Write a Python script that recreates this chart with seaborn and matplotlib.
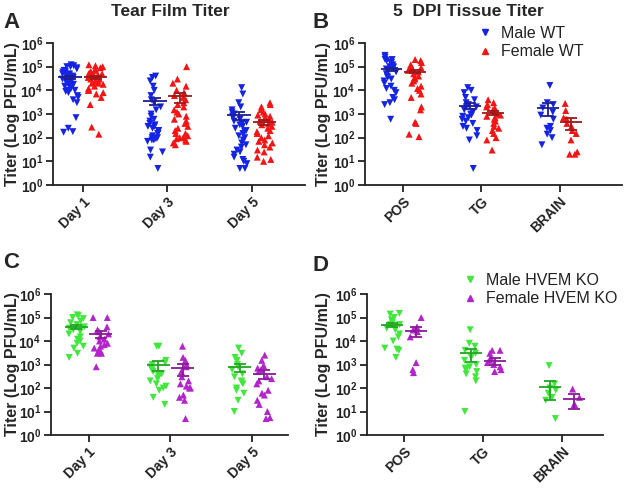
import numpy as np
import pandas as pd
import seaborn as sns
import matplotlib.pyplot as plt
from matplotlib.lines import Line2D
from matplotlib.collections import PathCollection
from matplotlib.ticker import NullLocator, FixedLocator
from matplotlib.transforms import blended_transform_factory

np.random.seed(3)

# ---- data (PFU/mL) ----
days = ["Day 1", "Day 3", "Day 5"]
tissues = ["POS", "TG", "BRAIN"]

# A: tear film, WT
tear_wt_m_d1 = [1.2e5, 1.1e5, 1.0e5, 1.0e5, 9e4, 8e4, 7e4, 6e4, 6e4, 5e4, 5e4, 4.5e4, 4e4, 4e4, 3.5e4,
                3e4, 3e4, 2.5e4, 2.5e4, 2e4, 2e4, 1.8e4, 1.5e4, 1.5e4, 1.2e4, 1e4, 1e4, 9e3, 8e3, 6e3,
                5e3, 4e3, 3e3, 700, 250, 170, 180]
tear_wt_f_d1 = [1.2e5, 1.1e5, 1.0e5, 9e4, 8e4, 7e4, 6e4, 6e4, 5e4, 5e4, 4.5e4, 4e4, 4e4, 3.5e4, 3e4,
                3e4, 2.5e4, 2.5e4, 2e4, 2e4, 1.8e4, 1.5e4, 1.2e4, 1e4, 1e4, 8e3, 7e3, 5e3, 2.5e3,
                280, 140]
tear_wt_m_d3 = [4e4, 3.5e4, 2.5e4, 1.5e4, 1e4, 6e3, 4e3, 3e3, 2e3, 1.5e3, 1e3, 800, 600, 500, 400,
                350, 300, 300, 250, 200, 200, 150, 150, 120, 100, 100, 90, 80, 80, 70, 30, 25, 15, 5]
tear_wt_f_d3 = [1e5, 3e4, 2e4, 1.5e4, 1e4, 8e3, 6e3, 5e3, 4e3, 3e3, 2.5e3, 2e3, 1.5e3, 1.2e3, 1e3,
                800, 600, 500, 400, 300, 250, 200, 150, 150, 120, 100, 100, 90, 80, 70, 60, 50]
tear_wt_m_d5 = [1.3e4, 7e3, 3e3, 2e3, 1.5e3, 1.2e3, 1e3, 900, 800, 700, 600, 500, 450, 400, 350, 300,
                250, 200, 180, 150, 120, 100, 80, 60, 50, 40, 30, 25, 20, 15, 12, 10, 8, 5, 5]
tear_wt_f_d5 = [3e3, 2.5e3, 2e3, 1.5e3, 1.2e3, 1e3, 900, 800, 700, 600, 500, 450, 400, 350, 300, 250,
                200, 180, 150, 120, 100, 80, 70, 60, 50, 40, 30, 25, 15, 12, 10]

# B: tissue, WT
tis_wt_m_pos = [3e5, 2.5e5, 2e5, 2e5, 1.8e5, 1.5e5, 1.5e5, 1.2e5, 1e5, 1e5, 9e4, 8e4, 7e4, 6e4, 5e4,
                4e4, 3.5e4, 3e4, 2.5e4, 2e4, 1.5e4, 1.2e4, 1e4, 8e3, 5e3, 4e3, 3e3, 2.5e3, 600]
tis_wt_f_pos = [2e5, 1.8e5, 1.5e5, 1.2e5, 1e5, 9e4, 8e4, 7e4, 6e4, 5e4, 4e4, 3.5e4, 3e4, 2.5e4, 2e4,
                1.5e4, 1.2e4, 1e4, 7e3, 5e3, 2e3, 1.5e3, 450, 400, 140, 110]
tis_wt_m_tg = [1.3e4, 1e4, 8e3, 5e3, 4e3, 3e3, 2.5e3, 2e3, 2e3, 1.5e3, 1.2e3, 1e3, 900, 800, 700, 600,
               500, 400, 300, 250, 200, 120, 80, 5]
tis_wt_f_tg = [4e3, 3e3, 2.5e3, 2e3, 1.8e3, 1.5e3, 1.2e3, 1e3, 900, 800, 700, 600, 500, 400, 300, 250,
               200, 150, 100, 80, 30]
tis_wt_m_br = [1.6e4, 3e3, 2.5e3, 1.8e3, 1.2e3, 900, 600, 300, 250, 200, 140, 100, 50]
tis_wt_f_br = [2.8e3, 1.4e3, 700, 600, 400, 300, 200, 150, 80, 25, 20, 20]

# C: tear film, HVEM KO
tear_ko_m_d1 = [1.3e5, 1.2e5, 1e5, 9e4, 7e4, 6e4, 5e4, 4e4, 3.5e4, 3e4, 2.5e4, 2e4, 1.5e4, 1.2e4, 1e4,
                8e3, 6e3, 5e3, 3e3, 2e3]
tear_ko_f_d1 = [1e5, 1e5, 4e4, 3e4, 2.5e4, 2e4, 1.5e4, 1.2e4, 1e4, 8e3, 7e3, 6e3, 5e3, 4e3, 3.5e3,
                3e3, 3e3, 800]
tear_ko_m_d3 = [6e3, 6e3, 1.5e3, 1.2e3, 1e3, 800, 600, 500, 400, 350, 300, 250, 200, 150, 120, 100,
                80, 40, 20]
tear_ko_f_d3 = [6e3, 2e3, 1.5e3, 1e3, 800, 500, 300, 200, 150, 120, 100, 100, 50, 40, 30, 5]
tear_ko_m_d5 = [5e3, 3e3, 2e3, 1.5e3, 1e3, 800, 600, 400, 300, 200, 180, 150, 100, 80, 60, 30, 10]
tear_ko_f_d5 = [2.5e3, 1.5e3, 900, 700, 600, 500, 300, 250, 200, 150, 80, 60, 50, 30, 20, 10, 5, 5.5]

# D: tissue, HVEM KO
tis_ko_m_pos = [1.5e5, 1.4e5, 1e5, 8e4, 6e4, 5e4, 5e4, 4e4, 3.5e4, 3e4, 2e4, 1.5e4, 1e4, 5e3, 4.5e3,
                4e3, 2e3]
tis_ko_f_pos = [1e5, 4e4, 3e4, 3e4, 2.5e4, 1.5e4, 1.2e3, 600, 450]
tis_ko_m_tg = [3e4, 8e3, 6e3, 4e3, 3e3, 2e3, 1.5e3, 1e3, 800, 700, 600, 500, 400, 300, 200, 10]
tis_ko_f_tg = [4e3, 4e3, 3e3, 2e3, 1.5e3, 1.2e3, 1e3, 800, 600, 500]
tis_ko_m_br = [900, 150, 100, 80, 60, 40, 30, 5]
tis_ko_f_br = [90, 40, 20, 20]

# mean and SEM per group as drawn
mean_a_m = [3.5e4, 3.6e3, 900]
sem_a_m = [5e3, 1.2e3, 350]
mean_a_f = [3.5e4, 5.5e3, 450]
sem_a_f = [5e3, 2.5e3, 120]
mean_b_m = [8e4, 2.2e3, 1.8e3]
sem_b_m = [1.2e4, 600, 1e3]
mean_b_f = [6.2e4, 1.15e3, 450]
sem_b_f = [1e4, 200, 230]
mean_c_m = [4e4, 950, 750]
sem_c_m = [8e3, 400, 280]
mean_c_f = [2e4, 700, 400]
sem_c_f = [6e3, 380, 160]
mean_d_m = [4.8e4, 3e3, 110]
sem_d_m = [1e4, 1.7e3, 80]
mean_d_f = [2.7e4, 1.4e3, 33]
sem_d_f = [1.2e4, 450, 20]


def to_frame(cats, male_groups, female_groups):
    rows = []
    for cat, vals in zip(cats, male_groups):
        rows += [(cat, "M", v) for v in vals]
    for cat, vals in zip(cats, female_groups):
        rows += [(cat, "F", v) for v in vals]
    return pd.DataFrame(rows, columns=["cat", "sex", "titer"])


sns.set_style("white")
plt.rcParams["font.family"] = ["Liberation Sans", "DejaVu Sans"]
plt.rcParams["font.weight"] = "bold"
plt.rcParams["mathtext.default"] = "bf"

fig = plt.figure(figsize=(6.25, 4.9), dpi=100)

W, H = 625, 490


def make_axes(left, top, right, bottom):
    return fig.add_axes([left / W, 1 - bottom / H, (right - left) / W, (bottom - top) / H])


blue, red = "#1424e6", "#f41414"
green, purple = "#3fe83a", "#b424cc"

panels = [
    (make_axes(53, 43, 305, 185), days, to_frame(days, [tear_wt_m_d1, tear_wt_m_d3, tear_wt_m_d5],
                                                 [tear_wt_f_d1, tear_wt_f_d3, tear_wt_f_d5]),
     (blue, red), ("#1e1e96", "#a01818"), (mean_a_m, sem_a_m, mean_a_f, sem_a_f), (-0.355, 2.63), 20),
    (make_axes(365, 43, 622, 185), tissues, to_frame(tissues, [tis_wt_m_pos, tis_wt_m_tg, tis_wt_m_br],
                                                     [tis_wt_f_pos, tis_wt_f_tg, tis_wt_f_br]),
     (blue, red), ("#1e1e96", "#a01818"), (mean_b_m, sem_b_m, mean_b_f, sem_b_f), (-0.49, 2.8), 331),
    (make_axes(51, 294, 288, 435), days, to_frame(days, [tear_ko_m_d1, tear_ko_m_d3, tear_ko_m_d5],
                                                  [tear_ko_f_d1, tear_ko_f_d3, tear_ko_f_d5]),
     (green, purple), ("#22a622", "#8a1a9a"), (mean_c_m, sem_c_m, mean_c_f, sem_c_f), (-0.46, 2.44), 20),
    (make_axes(367, 294, 603, 435), tissues, to_frame(tissues, [tis_ko_m_pos, tis_ko_m_tg, tis_ko_m_br],
                                                      [tis_ko_f_pos, tis_ko_f_tg, tis_ko_f_br]),
     (green, purple), ("#22a622", "#8a1a9a"), (mean_d_m, sem_d_m, mean_d_f, sem_d_f), (-0.47, 2.52), 331),
]

off = 0.15
for ax, cats, df, cols, lcols, stats, xlim, ylab_x in panels:
    pal = {"M": cols[0], "F": cols[1]}
    for sex, mk in (("M", "v"), ("F", "^")):
        sns.stripplot(data=df[df["sex"] == sex], x="cat", y="titer", hue="sex", hue_order=["M", "F"],
                      order=cats, dodge=True, jitter=0.26, marker=mk, size=5,
                      palette=pal, linewidth=0, legend=False, log_scale=True, ax=ax, zorder=2)
    # pull the dodged groups a bit closer together (GraphPad-like spacing)
    for coll in ax.collections:
        if isinstance(coll, PathCollection):
            pts = coll.get_offsets()
            if len(pts):
                centre = np.round(pts[:, 0])
                pts[:, 0] = centre + (pts[:, 0] - centre) * 0.75
                coll.set_offsets(pts)
    mm, sm, mf, sf = stats
    for i in range(len(cats)):
        for x, m, s, c in ((i - off, mm[i], sm[i], lcols[0]), (i + off, mf[i], sf[i], lcols[1])):
            ax.hlines(m, x - 0.14, x + 0.14, color=c, lw=1.3, zorder=4)
            ax.errorbar(x, m, yerr=s, fmt="none", ecolor=c, elinewidth=1.3, capsize=4,
                        capthick=1.3, zorder=4)

    ax.set_yscale("log")
    ax.set_ylim(1, 1e6)
    ax.set_xlim(*xlim)
    ax.yaxis.set_major_locator(FixedLocator([10.0 ** k for k in range(7)]))
    ax.yaxis.set_minor_locator(NullLocator())
    for side in ("top", "right"):
        ax.spines[side].set_visible(False)
    for side in ("left", "bottom"):
        ax.spines[side].set_linewidth(1.3)
        ax.spines[side].set_color("#222222")
    ax.tick_params(axis="both", direction="out", length=5, width=1.3, colors="#222222",
                   labelsize=10, left=True, bottom=True)
    ax.tick_params(axis="y", pad=2)
    ax.tick_params(axis="x", pad=2)
    ax.set_xlabel("")
    ax.set_ylabel("Titer (Log PFU/mL)", fontsize=11.5, fontweight="bold")
    ax.yaxis.set_label_coords(ylab_x / W, 0.5,
                              transform=blended_transform_factory(fig.transFigure, ax.transAxes))
    for lab in ax.get_xticklabels():
        lab.set_rotation(45)
        lab.set_ha("right")
        lab.set_rotation_mode("anchor")
        lab.set_fontweight("bold")
    for lab in ax.get_yticklabels():
        lab.set_fontweight("bold")
    ax.grid(False)

fig.text(170 / W, 1 - 12 / H, "Tear Film Titer", ha="center", va="center", fontsize=12.5, fontweight="bold")
fig.text(468 / W, 1 - 12 / H, "5  DPI Tissue Titer", ha="center", va="center", fontsize=12.5,
         fontweight="bold")
for txt, x, y in (("A", 3, 22), ("B", 313, 22), ("C", 3, 263), ("D", 313, 265)):
    fig.text(x / W, 1 - y / H, txt, ha="left", va="center", fontsize=16, fontweight="bold")


def legend_handles(cols, labels):
    return [Line2D([], [], ls="none", marker="v", color=cols[0], markersize=4, label=labels[0]),
            Line2D([], [], ls="none", marker="^", color=cols[1], markersize=4, label=labels[1])]


fig.legend(handles=legend_handles((blue, red), ("Male WT", "Female WT")), loc="upper left",
           bbox_to_anchor=(479 / W, 1 - 26 / H), frameon=False, prop={"size": 11.5, "weight": "normal"},
           handlelength=0.8, handletextpad=0.6, labelspacing=0.2, borderaxespad=0, borderpad=0,
           labelcolor="#222222")
fig.legend(handles=legend_handles((green, purple), ("Male HVEM KO", "Female HVEM KO")), loc="upper left",
           bbox_to_anchor=(464 / W, 1 - 273 / H), frameon=False, prop={"size": 11.5, "weight": "normal"},
           handlelength=0.8, handletextpad=0.6, labelspacing=0.2, borderaxespad=0, borderpad=0,
           labelcolor="#222222")

fig.savefig("out.png", dpi=100)
